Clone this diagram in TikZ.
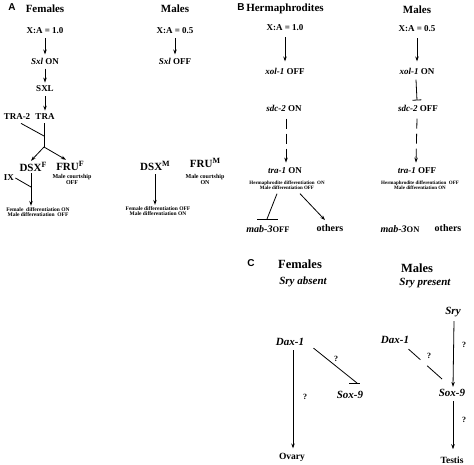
\documentclass[tikz,border=0pt]{standalone}
\usepackage{fontspec}
\setmainfont{Liberation Serif}
\newfontfamily\panelfont{Liberation Sans}
\usetikzlibrary{arrows.meta}

\newcommand{\fsz}[1]{\fontsize{#1}{#1}\selectfont}
\newcommand{\supr}[1]{\raisebox{0.85ex}{\fsz{8}#1}}

\begin{document}
\begin{tikzpicture}[x=1pt,y=-1pt,line width=0.8pt,
    every node/.style={font=\bfseries,inner sep=1pt},
    panel/.style={font=\panelfont\bfseries\fsz{10}},
    title/.style={font=\bfseries\fsz{11}},
    gene/.style={font=\bfseries\fsz{9}},
    prot/.style={font=\bfseries\fsz{11}},
    tiny/.style={font=\bfseries\fsz{5.5},align=center},
    small/.style={font=\bfseries\fsz{6},align=center},
    bigtitle/.style={font=\bfseries\fsz{12.5}},
    mouse/.style={font=\bfseries\itshape\fsz{11}},
    qm/.style={font=\bfseries\fsz{8}},
    arr/.style={-{Stealth[length=5pt,width=3.5pt]}},
    chain/.style={arr,shorten <=3pt,shorten >=2pt},
    inh/.style={-{Bar[width=9pt]}},
    dsh/.style={arr,dash pattern=on 10pt off 5pt}]
  \useasboundingbox (0,0) rectangle (474,465);

  % A: flies
  \node[panel] (labA) at (12,7) {A};
  \node[title] (femA) at (45,9) {Females};
  \node[gene] (xaF) at (45,31) {X:A = 1.0};
  \node[gene] (sxlF) at (45,61) {\textit{Sxl} ON};
  \node[gene] (sxlP) at (45,89) {SXL};
  \node[gene] (tra2) at (17,117) {TRA-2};
  \node[gene] (tra) at (45,117) {TRA};
  \coordinate (br) at (44,147);
  \coordinate (tram) at (44,136);
  \node[prot] (dsxF) at (33,167) {DSX\supr{F}};
  \node[prot] (fruF) at (70,166) {FRU\supr{F}};
  \node[small] (mcF) at (72,179) {Male courtship\\OFF};
  \node[gene] (ix) at (9,178) {IX};
  \coordinate (ixm) at (31,187);
  \node[tiny] (fdF) at (38,212) {Female \ differentiation ON\\Male differentiation \ OFF};
  \draw[chain] (xaF) -- (sxlF);
  \draw[chain] (sxlF) -- (sxlP);
  \draw[chain] (sxlP) -- (tra);
  \draw ([xshift=-1pt,yshift=-2pt]tra.south) -- (br);
  \draw ([xshift=4pt,yshift=-2pt]tra2.south) -- (tram);
  \draw[arr] (br) -- ([xshift=-2pt]dsxF.north);
  \draw[arr] (br) -- ([xshift=-4pt]fruF.north);
  \draw[arr] ([xshift=-2pt]dsxF.south) -- ([xshift=-2pt]dsxF.south |- fdF.north);
  \draw (ix.east) -- (ixm);

  \node[title] (malA) at (175,9) {Males};
  \node[gene] (xaM) at (175,31) {X:A = 0.5};
  \node[gene] (sxlM) at (175,61) {\textit{Sxl} OFF};
  \node[prot] (dsxM) at (155,166) {DSX\supr{M}};
  \node[prot] (fruM) at (205,163) {FRU\supr{M}};
  \node[small] (mcM) at (205,179) {Male courtship\\ON};
  \node[tiny] (fdM) at (158,211) {Female differentiation OFF\\Male differentiation ON};
  \draw[chain] (xaM) -- (sxlM);
  \draw[arr] ([yshift=-2pt]dsxM.south) -- (dsxM.south |- fdM.north);

  % B: worms
  \node[panel] (labB) at (241,7) {B};
  \node[title] (herm) at (285,9) {Hermaphrodites};
  \node[gene] (xaH) at (285,28) {X:A = 1.0};
  \node[gene] (xolH) at (285,71) {\textit{xol-1} OFF};
  \node[gene] (sdcH) at (284,108) {\textit{sdc-2} ON};
  \node[gene] (traH) at (285,171) {\textit{tra-1} ON};
  \node[tiny,font=\bfseries\fsz{5}] (hdH) at (287,185) {Hermaphrodite differentiation \ ON\\Male differentiation OFF};
  \node[gene,font=\bfseries\fsz{10}] (mabH) at (268,229) {\textit{mab-3}{\fsz{8.5}OFF}};
  \node[gene,font=\bfseries\fsz{10}] (othH) at (330,228) {others};
  \coordinate (mbH) at (267,219);
  \draw[arr] ([yshift=-5pt]xaH.south) -- ([yshift=5pt]xolH.north);
  \draw[dsh] ([yshift=-6pt,xshift=2pt]sdcH.south) -- ([yshift=4pt,xshift=1pt]traH.north);
  \draw ([xshift=-10pt,yshift=-3pt]hdH.south) -- (mbH);
  \draw ([xshift=-10pt]mbH) -- ([xshift=11pt]mbH);
  \draw[arr] ([xshift=13pt,yshift=-3pt]hdH.south) -- ([xshift=-5pt,yshift=3pt]othH.north);

  \node[title] (malB) at (417,10) {Males};
  \node[gene] (xaMB) at (417,29) {X:A = 0.5};
  \node[gene] (xolM) at (417,71) {\textit{xol-1} ON};
  \node[gene] (sdcM) at (418,108) {\textit{sdc-2} OFF};
  \node[gene] (traM) at (417,171) {\textit{tra-1} OFF};
  \node[tiny,font=\bfseries\fsz{5}] (hdM) at (420,185) {Hermaphrodite differentiation \ OFF\\Male differentiation ON};
  \node[gene,font=\bfseries\fsz{10}] (mabM) at (400,229) {\textit{mab-3}{\fsz{8.5}ON}};
  \node[gene,font=\bfseries\fsz{10}] (othM) at (448,228) {others};
  \draw[arr] ([yshift=-5pt]xaMB.south) -- ([yshift=5pt]xolM.north);
  \draw[inh] ([yshift=-4pt,xshift=-1pt]xolM.south) -- ([yshift=3pt,xshift=-1pt]sdcM.north);
  \draw[dsh] ([yshift=-6pt,xshift=-1pt]sdcM.south) -- ([yshift=4pt,xshift=-1pt]traM.north);

  % C: mice
  \node[panel] (labC) at (251,263) {C};
  \node[bigtitle] (femC) at (300,264) {Females};
  \node[mouse] (sryA) at (303,282) {Sry absent};
  \node[bigtitle] (malC) at (417,268) {Males};
  \node[mouse] (sryP) at (425,283) {Sry present};

  \node[mouse] (daxF) at (290,342) {Dax-1};
  \node[mouse] (soxF) at (350,395) {Sox-9};
  \node[gene,font=\bfseries\fsz{9.5}] (ovary) at (292,457) {Ovary};
  \node[qm] (q1) at (336,359) {?};
  \node[qm] (q2) at (305,397) {?};
  \coordinate (sbar) at (357,383);
  \draw[arr] ([xshift=3pt,yshift=-3pt]daxF.south) -- ([xshift=1pt,yshift=3pt]ovary.north);
  \draw ([xshift=8pt,yshift=-1pt]daxF.south east) -- (sbar);
  \draw ([xshift=-8pt]sbar) -- ([xshift=3pt]sbar);

  \node[mouse] (sry) at (453,312) {Sry};
  \node[mouse] (daxM) at (395,340) {Dax-1};
  \node[mouse] (soxM) at (452,393) {Sox-9};
  \node[gene,font=\bfseries\fsz{9.5}] (testis) at (452,460) {Testis};
  \node[qm] (q3) at (464,345) {?};
  \node[qm] (q4) at (429,356) {?};
  \node[qm] (q5) at (464,420) {?};
  \coordinate (sxm) at (442,379);
  \draw[arr] ([xshift=1pt,yshift=-3pt]sry.south) -- ([xshift=1pt,yshift=1pt]soxM.north);
  \draw[dash pattern=on 16pt off 9pt on 30pt] ([xshift=-2pt,yshift=-4pt]daxM.south east) -- (sxm);
  \draw[arr] ([xshift=1pt,yshift=-3pt]soxM.south) -- ([xshift=1pt,yshift=6pt]testis.north);
\end{tikzpicture}
\end{document}
